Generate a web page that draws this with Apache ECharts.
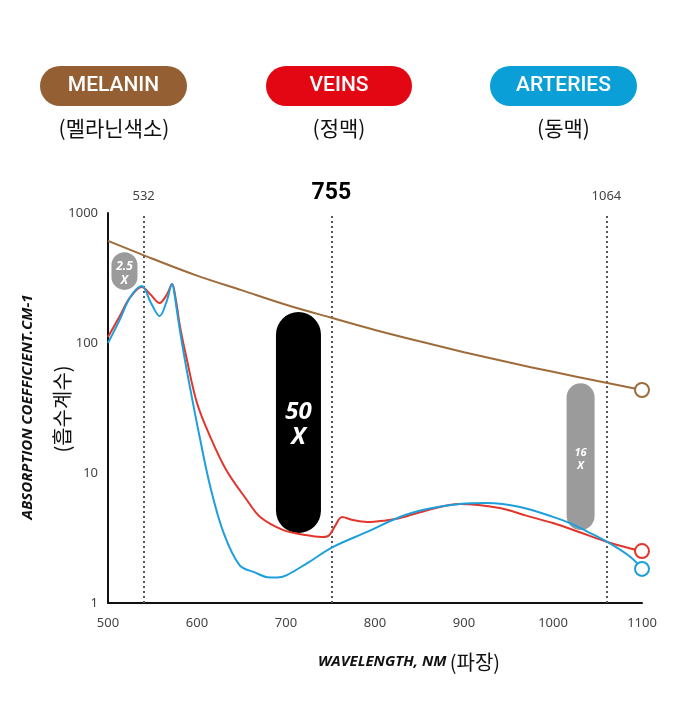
<!DOCTYPE html>
<html>
<head>
<meta charset="utf-8">
<script src="https://cdn.jsdelivr.net/npm/echarts@6/dist/echarts.min.js"></script>
<style>
html,body{margin:0;padding:0;background:#fff;}
#chart{width:678px;height:726px;}
</style>
</head>
<body>
<div id="chart"></div>
<script>
// ---- data ----
const xTicks = [500, 600, 700, 800, 900, 1000, 1100];
const yTicks = [1, 10, 100, 1000];

const melaninX = [500, 550, 600, 650, 700, 750, 800, 850, 900, 950, 1000, 1050, 1100];
const melaninY = [610, 445, 330, 255, 197, 157, 126, 103, 85, 71, 60, 51, 43.5];

const veinsX = [500, 513, 525, 538, 548, 558, 566, 572, 576, 581, 588, 600, 615, 633, 656, 671, 697, 720, 740, 748, 755, 763, 775, 791, 810, 828, 860, 895, 940, 970, 1000, 1030, 1061, 1085, 1100];
const veinsY = [111, 160, 225, 270, 235, 203, 235, 284, 220, 133, 78, 34.5, 18.9, 10.5, 6.2, 4.59, 3.64, 3.35, 3.22, 3.3, 3.9, 4.59, 4.35, 4.2, 4.3, 4.5, 5.2, 5.77, 5.38, 4.7, 4.12, 3.5, 2.95, 2.65, 2.51];

const arteriesX = [500, 513, 525, 538, 548, 558, 566, 572, 575, 579, 585, 592, 603, 615, 630, 648, 665, 679, 690, 701, 724, 753, 791, 828, 860, 895, 926, 963, 1000, 1019, 1040, 1061, 1087, 1100];
const arteriesY = [100, 150, 225, 274, 205, 161, 210, 284, 230, 150, 84, 46, 18.9, 7.8, 3.45, 1.95, 1.72, 1.58, 1.57, 1.64, 2.03, 2.7, 3.52, 4.59, 5.3, 5.77, 5.88, 5.48, 4.6, 4.12, 3.5, 2.95, 2.26, 1.83];

// laser wavelength markers (label, drawn position on the wavelength axis)
const laserLabels = ['532', '755', '1064'];
const laserPos = [540, 751, 1060];

// ratio annotations (label, wavelength, top value, bottom value)
const ratioLabels = ['2.5\nX', '50\nX', '16\nX'];
const ratioX = [518.5, 714, 1031];
const ratioTop = [500, 173, 49];
const ratioBottom = [256, 3.45, 3.64];

// ---- styles ----
const C_MEL = '#9E6C3B', C_VEIN = '#E2352B', C_ART = '#1E9FDC';
const pillStyles = [
  {w: 26, fill: '#9B9B9B', font: 'italic bold 12px "Open Sans"', lh: 14, dy: 3},
  {w: 45, fill: '#000000', font: 'italic bold 24px "Open Sans"', lh: 25, dy: 2},
  {w: 28, fill: '#9B9B9B', font: 'italic bold 11px "Open Sans"', lh: 13, dy: 3}
];

const zip = (xs, ys) => xs.map((x, i) => [x, ys[i]]);

function lineSeries(name, xs, ys, color) {
  const last = xs.length - 1;
  return {
    name, type: 'line', data: zip(xs, ys), smooth: 0.35, z: 5,
    symbol: (v, p) => p.dataIndex === last ? 'circle' : 'none',
    symbolSize: 14, showSymbol: true,
    lineStyle: {color, width: 2},
    itemStyle: {color: '#fff', borderColor: color, borderWidth: 2},
    emphasis: {disabled: true}
  };
}

const chart = echarts.init(document.getElementById('chart'), null, {renderer: 'canvas'});

const option = {
  animation: false,
  backgroundColor: '#fff',
  grid: {left: 108, right: 36, top: 213, bottom: 123},
  xAxis: {
    type: 'value', min: 500, max: 1100, interval: 100,
    axisLine: {show: true, lineStyle: {color: '#111', width: 2}},
    axisTick: {show: false}, splitLine: {show: false},
    axisLabel: {color: '#444', fontSize: 13, fontFamily: 'Noto Sans', margin: 14,
      formatter: v => xTicks.includes(v) ? String(v) : ''}
  },
  yAxis: {
    type: 'log', logBase: 10, min: 1, max: 1000,
    axisLine: {show: true, onZero: false, lineStyle: {color: '#111', width: 2}},
    axisTick: {show: false}, splitLine: {show: false}, minorTick: {show: false},
    axisLabel: {color: '#444', fontSize: 13, fontFamily: 'Noto Sans', margin: 10,
      formatter: v => yTicks.includes(Math.round(v)) ? String(Math.round(v)) : ''}
  },
  series: [
    {
      type: 'custom', z: 2, silent: true,
      data: ratioLabels.map((l, i) => [ratioX[i], ratioTop[i], ratioBottom[i], i]),
      renderItem: (params, api) => {
        const i = api.value(3);
        const st = pillStyles[i];
        const t = api.coord([api.value(0), api.value(1)]);
        const b = api.coord([api.value(0), api.value(2)]);
        return {
          type: 'group',
          children: [
            {type: 'rect', shape: {x: t[0] - st.w / 2, y: t[1], width: st.w, height: b[1] - t[1], r: st.w / 2},
              style: {fill: st.fill}},
            {type: 'text', style: {text: ratioLabels[i], x: t[0], y: (t[1] + b[1]) / 2 + st.dy,
              align: 'center', verticalAlign: 'middle', fill: '#fff', font: st.font, lineHeight: st.lh}}
          ]
        };
      }
    },
    Object.assign(lineSeries('Melanin', melaninX, melaninY, C_MEL), {
      markLine: {
        silent: true, symbol: ['none', 'none'], z: 1,
        lineStyle: {type: [2, 3], color: '#555', width: 2},
        data: laserPos.map((p, i) => ({
          xAxis: p,
          label: {show: true, position: 'end', formatter: laserLabels[i], distance: i === 1 ? 8 : 10,
            color: i === 1 ? '#000' : '#444',
            fontSize: i === 1 ? 23 : 13, fontWeight: i === 1 ? 'bold' : 'normal',
            fontFamily: i === 1 ? 'Roboto' : 'Noto Sans'}
        }))
      }
    }),
    lineSeries('Veins', veinsX, veinsY, C_VEIN),
    lineSeries('Arteries', arteriesX, arteriesY, C_ART)
  ],
  graphic: [
    // legend pills
    {type: 'rect', left: 40, top: 66, shape: {width: 147, height: 40, r: 20}, style: {fill: '#955F34'}},
    {type: 'text', x: 113.5, y: 86, style: {text: 'MELANIN', fill: '#fff', font: '500 21px Roboto', align: 'center', verticalAlign: 'middle'}},
    {type: 'text', x: 114, y: 128, style: {text: '(멜라닌색소)', fill: '#111', font: '21px "Noto Sans CJK KR"', align: 'center', verticalAlign: 'middle'}},

    {type: 'rect', left: 266, top: 66, shape: {width: 146, height: 40, r: 20}, style: {fill: '#E30613'}},
    {type: 'text', x: 339, y: 86, style: {text: 'VEINS', fill: '#fff', font: '500 21px Roboto', align: 'center', verticalAlign: 'middle'}},
    {type: 'text', x: 339, y: 128, style: {text: '(정맥)', fill: '#111', font: '21px "Noto Sans CJK KR"', align: 'center', verticalAlign: 'middle'}},

    {type: 'rect', left: 490, top: 66, shape: {width: 147, height: 40, r: 20}, style: {fill: '#0A9FD6'}},
    {type: 'text', x: 563.5, y: 86, style: {text: 'ARTERIES', fill: '#fff', font: '500 21px Roboto', align: 'center', verticalAlign: 'middle'}},
    {type: 'text', x: 563.5, y: 128, style: {text: '(동맥)', fill: '#111', font: '21px "Noto Sans CJK KR"', align: 'center', verticalAlign: 'middle'}},

    // axis names
    {type: 'text', x: 28, y: 407, rotation: Math.PI / 2,
      style: {text: 'ABSORPTION COEFFICIENT.CM-1', fill: '#111', font: 'italic bold 15px "Open Sans"', align: 'center', verticalAlign: 'middle'}},
    {type: 'text', x: 62, y: 409, rotation: Math.PI / 2,
      style: {text: '(흡수계수)', fill: '#111', font: '20px "Noto Sans CJK KR"', align: 'center', verticalAlign: 'middle'}},
    {type: 'text', x: 409, y: 662,
      style: {text: '{a|WAVELENGTH, NM} {b|(파장)}', align: 'center', verticalAlign: 'middle',
        rich: {a: {font: 'italic bold 15px "Open Sans"', fill: '#111'}, b: {font: '20px "Noto Sans CJK KR"', fill: '#111'}}}}
  ]
};

chart.setOption(option);
</script>
</body>
</html>
